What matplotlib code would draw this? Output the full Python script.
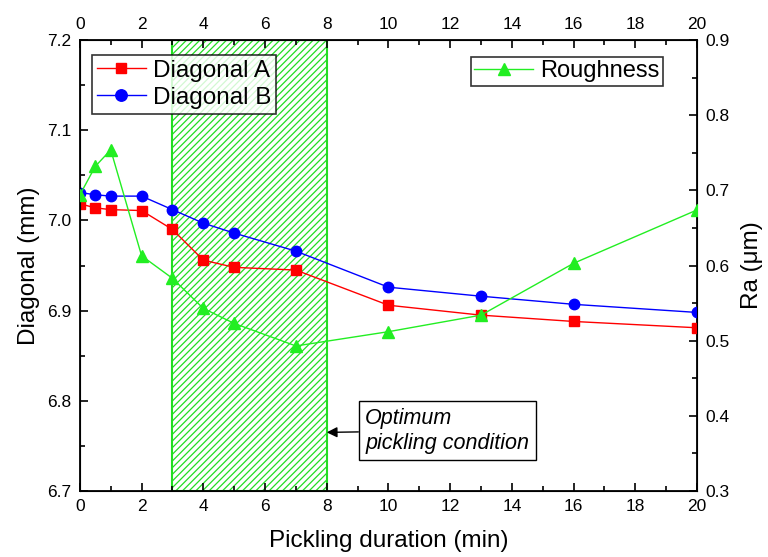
import matplotlib
matplotlib.use('Agg')
import matplotlib.pyplot as plt
from matplotlib.ticker import MultipleLocator

plt.rcParams['font.family'] = ['Liberation Sans', 'DejaVu Sans']
plt.rcParams['hatch.linewidth'] = 0.9

# data
t_diag      = [0, 0.5, 1, 2, 3, 4, 5, 7, 10, 13, 16, 20]
diag_a      = [7.0185, 7.014, 7.012, 7.011, 6.990, 6.956, 6.948, 6.945, 6.906, 6.895, 6.888, 6.881]
diag_b      = [7.031, 7.0285, 7.027, 7.027, 7.012, 6.997, 6.986, 6.966, 6.926, 6.916, 6.907, 6.898]
roughness   = [0.694, 0.732, 0.754, 0.613, 0.583, 0.543, 0.523, 0.493, 0.512, 0.534, 0.603, 0.674]
opt_window  = (3, 8)

fig = plt.figure(figsize=(7.68, 5.57), dpi=100)
ax = fig.add_axes([0.104, 0.1185, 0.8036, 0.8095])

ax.axvspan(opt_window[0], opt_window[1], facecolor='none', edgecolor='#22dd22',
           hatch='/////', linewidth=1.5, zorder=1)

la, = ax.plot(t_diag, diag_a, color='red', marker='s', markersize=7, lw=1, label='Diagonal A', zorder=3)
lb, = ax.plot(t_diag, diag_b, color='blue', marker='o', markersize=7.5, lw=1, label='Diagonal B', zorder=3)

ax.set_xlim(0, 20)
ax.set_ylim(6.7, 7.2)
ax.xaxis.set_major_locator(MultipleLocator(2))
ax.xaxis.set_minor_locator(MultipleLocator(1))
ax.yaxis.set_major_locator(MultipleLocator(0.1))
ax.yaxis.set_minor_locator(MultipleLocator(0.05))
ax.tick_params(which='both', direction='in', top=True, labeltop=True, labelsize=12.5, width=1.2, pad=6)
ax.tick_params(which='major', length=6)
ax.tick_params(which='minor', length=3.5)
ax.set_xlabel('Pickling duration (min)', fontsize=17.5, labelpad=11)
ax.set_ylabel('Diagonal (mm)', fontsize=17.5, labelpad=5)
for s in ax.spines.values():
    s.set_linewidth(1.3)

ax2 = ax.twinx()
lr, = ax2.plot(t_diag, roughness, color='#22ee22', marker='^', markersize=9, lw=1, label='Roughness', zorder=3)
ax2.set_ylim(0.3, 0.9)
ax2.yaxis.set_major_locator(MultipleLocator(0.1))
ax2.yaxis.set_minor_locator(MultipleLocator(0.05))
ax2.tick_params(which='both', direction='in', labelsize=12.5, width=1.2, pad=6)
ax2.tick_params(which='major', length=6)
ax2.tick_params(which='minor', length=3.5)
ax2.set_ylabel('Ra (\u03bcm)', fontsize=17.5, labelpad=8)

leg1 = ax.legend(handles=[la, lb], loc='upper left', bbox_to_anchor=(0.02, 0.967), fontsize=17.5,
                 fancybox=False, edgecolor='black', handlelength=2.0, borderpad=0.2,
                 labelspacing=0.2, handletextpad=0.3, borderaxespad=0, markerscale=1.1)
leg1.get_frame().set_linewidth(1.2)
leg2 = ax2.legend(handles=[lr], loc='upper right', bbox_to_anchor=(0.945, 0.963), fontsize=17,
                  fancybox=False, edgecolor='black', handlelength=2.5, borderpad=0.15,
                  handletextpad=0.3, borderaxespad=0)
leg2.get_frame().set_linewidth(1.2)

ax.annotate('Optimum\npickling condition', xy=(8, 6.765), xytext=(9.25, 6.767),
            fontsize=15.5, style='italic', va='center', ha='left', linespacing=1.25,
            bbox=dict(boxstyle='square,pad=0.3', fc='white', ec='black', lw=1),
            arrowprops=dict(arrowstyle='-|>', color='black', lw=1, shrinkA=0, shrinkB=0))

fig.savefig('out.png', dpi=100)
